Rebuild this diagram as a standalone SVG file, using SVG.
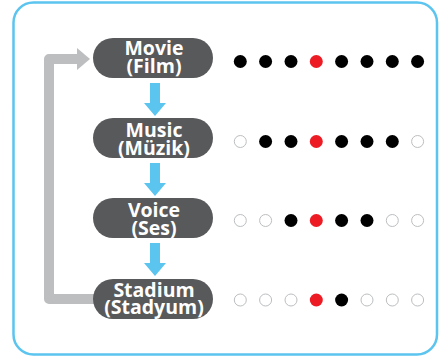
<svg xmlns="http://www.w3.org/2000/svg" width="442" height="357" viewBox="0 0 442 357">
<style>
.pill{fill:#58595b}
.lbl{font-family:"Open Sans","DejaVu Sans",sans-serif;font-weight:bold;font-size:19.5px;fill:#ffffff;text-anchor:middle}
.blue{fill:#5bc4ef}
.k{fill:#000000}
.r{fill:#ed1c24}
.o{fill:#ffffff;stroke:#bcbec0;stroke-width:1}
</style>
<rect x="13.5" y="2.5" width="423.5" height="352" rx="20" ry="20" fill="#ffffff" stroke="#5bc4ef" stroke-width="2.5"/>
<g id="connectors">
<path d="M95 299 H49 V59 H78" fill="none" stroke="#bcbec0" stroke-width="10" stroke-linejoin="round"/>
<polygon points="77,48 90,59 77,70" fill="#bcbec0"/>
<polygon class="blue" points="150,83 160,83 160,103 166,103 155,116 144,103 150,103"/>
<polygon class="blue" points="150,163 160,163 160,183 166,183 155,196 144,183 150,183"/>
<polygon class="blue" points="150,243 160,243 160,263 166,263 155,276 144,263 150,263"/>
</g>
<g id="movie">
<rect class="pill" x="93" y="38" width="120" height="40" rx="20"/>
<text class="lbl" x="154" y="54.5">Movie</text>
<text class="lbl" x="154" y="73">(Film)</text>
</g>
<g id="music">
<rect class="pill" x="93" y="118" width="120" height="40" rx="20"/>
<text class="lbl" x="154" y="136.5">Music</text>
<text class="lbl" x="154" y="155">(Müzik)</text>
</g>
<g id="voice">
<rect class="pill" x="93" y="198" width="120" height="40" rx="20"/>
<text class="lbl" x="154" y="216.5">Voice</text>
<text class="lbl" x="154" y="235">(Ses)</text>
</g>
<g id="stadium">
<rect class="pill" x="93" y="279" width="120" height="40" rx="20"/>
<text class="lbl" x="154" y="296.5">Stadium</text>
<text class="lbl" x="154" y="314">(Stadyum)</text>
</g>
<g id="dots-movie">
<circle class="k" cx="240.3" cy="61.5" r="6.5"/>
<circle class="k" cx="265.6" cy="61.5" r="6.5"/>
<circle class="k" cx="291" cy="61.5" r="6.5"/>
<circle class="r" cx="316.3" cy="61.5" r="6.5"/>
<circle class="k" cx="341.6" cy="61.5" r="6.5"/>
<circle class="k" cx="367" cy="61.5" r="6.5"/>
<circle class="k" cx="392.3" cy="61.5" r="6.5"/>
<circle class="k" cx="417.6" cy="61.5" r="6.5"/>
</g>
<g id="dots-music">
<circle class="o" cx="240.3" cy="141.5" r="6"/>
<circle class="k" cx="265.6" cy="141.5" r="6.5"/>
<circle class="k" cx="291" cy="141.5" r="6.5"/>
<circle class="r" cx="316.3" cy="141.5" r="6.5"/>
<circle class="k" cx="341.6" cy="141.5" r="6.5"/>
<circle class="k" cx="367" cy="141.5" r="6.5"/>
<circle class="k" cx="392.3" cy="141.5" r="6.5"/>
<circle class="o" cx="417.6" cy="141.5" r="6"/>
</g>
<g id="dots-voice">
<circle class="o" cx="240.3" cy="220.5" r="6"/>
<circle class="o" cx="265.6" cy="220.5" r="6"/>
<circle class="k" cx="291" cy="220.5" r="6.5"/>
<circle class="r" cx="316.3" cy="220.5" r="6.5"/>
<circle class="k" cx="341.6" cy="220.5" r="6.5"/>
<circle class="k" cx="367" cy="220.5" r="6.5"/>
<circle class="o" cx="392.3" cy="220.5" r="6"/>
<circle class="o" cx="417.6" cy="220.5" r="6"/>
</g>
<g id="dots-stadium">
<circle class="o" cx="240.3" cy="300" r="6"/>
<circle class="o" cx="265.6" cy="300" r="6"/>
<circle class="o" cx="291" cy="300" r="6"/>
<circle class="r" cx="316.3" cy="300" r="6.5"/>
<circle class="k" cx="341.6" cy="300" r="6.5"/>
<circle class="o" cx="367" cy="300" r="6"/>
<circle class="o" cx="392.3" cy="300" r="6"/>
<circle class="o" cx="417.6" cy="300" r="6"/>
</g>
</svg>
